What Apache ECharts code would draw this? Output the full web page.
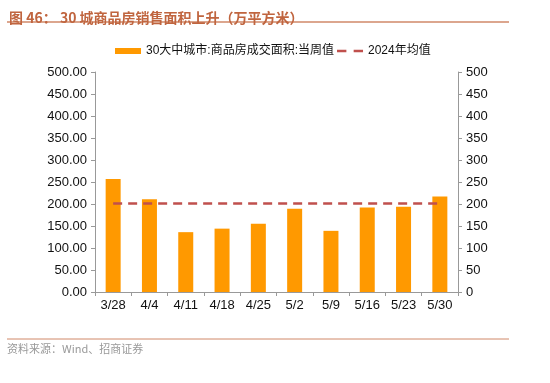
<!DOCTYPE html>
<html><head><meta charset="utf-8">
<script src="https://cdn.jsdelivr.net/npm/echarts@6/dist/echarts.min.js"></script>
<style>html,body{margin:0;padding:0;background:#fff}#c{width:550px;height:383px}</style>
</head><body><div id="c"></div>
<script>
const categories = ['3/28','4/4','4/11','4/18','4/25','5/2','5/9','5/16','5/23','5/30'];
const weeklyArea = [257, 211, 136, 144, 155, 189, 139, 192, 194, 217];
const avg2024 = [201, 201, 201, 201, 201, 201, 201, 201, 201, 201];
const barName = '30大中城市:商品房成交面积:当周值';
const lineName = '2024年均值';
const titleText = '图 46： 30 城商品房销售面积上升（万平方米）';
const sourceText = '资料来源：Wind、招商证券';

const font = 'Liberation Sans, Arial, Noto Sans CJK SC, sans-serif';
const chart = echarts.init(document.getElementById('c'), null, {renderer:'canvas'});
chart.setOption({
  animation:false,
  backgroundColor:'#fff',
  textStyle:{fontFamily:font},
  title:{text:titleText,left:4,top:6,textStyle:{fontSize:14,fontWeight:'bold',color:'#C0653F',fontFamily:'Noto Sans CJK SC, sans-serif'}},
  legend:{left:110,top:40,itemGap:3,itemWidth:26,itemHeight:6,
    textStyle:{fontSize:12,color:'#111',fontFamily:font},
    data:[{name:barName,icon:'rect'},
          {name:lineName,icon:'path://M0,0H9V2.5H0Z M16,0H25V2.5H16Z'}]},
  grid:{left:95,right:92,top:72,bottom:91},
  xAxis:{type:'category',data:categories,boundaryGap:true,
    axisLine:{lineStyle:{color:'#999'}},
    axisTick:{show:true,length:4,lineStyle:{color:'#999'}},
    axisLabel:{color:'#111',fontSize:13,margin:7}},
  yAxis:[
    {type:'value',min:0,max:500,interval:50,position:'left',
     axisLine:{show:true,lineStyle:{color:'#999'}},
     axisTick:{show:true,length:4,lineStyle:{color:'#999'}},
     splitLine:{show:false},
     axisLabel:{color:'#111',fontSize:13,margin:8,formatter:v=>v.toFixed(2)}},
    {type:'value',min:0,max:500,interval:50,position:'right',
     axisLine:{show:true,lineStyle:{color:'#999'}},
     axisTick:{show:true,length:4,lineStyle:{color:'#999'}},
     splitLine:{show:false},
     axisLabel:{color:'#111',fontSize:13,margin:8}}
  ],
  series:[
    {name:barName,type:'bar',data:weeklyArea,barWidth:15,itemStyle:{color:'#FF9900'}},
    {name:lineName,type:'line',data:avg2024,symbol:'none',
     lineStyle:{color:'#C0504D',width:2.5,type:[9,6]},itemStyle:{color:'#C0504D'}}
  ],
  graphic:[
    {type:'line',shape:{x1:7,y1:22,x2:509,y2:22},style:{stroke:'#D08868',lineWidth:1.5}},
    {type:'line',shape:{x1:7,y1:339,x2:509,y2:339},style:{stroke:'#D08868',lineWidth:1}},
    {type:'text',left:7,top:343,style:{text:sourceText,fill:'#999',font:'11px Noto Sans CJK SC, sans-serif'}}
  ]
});
</script></body></html>
